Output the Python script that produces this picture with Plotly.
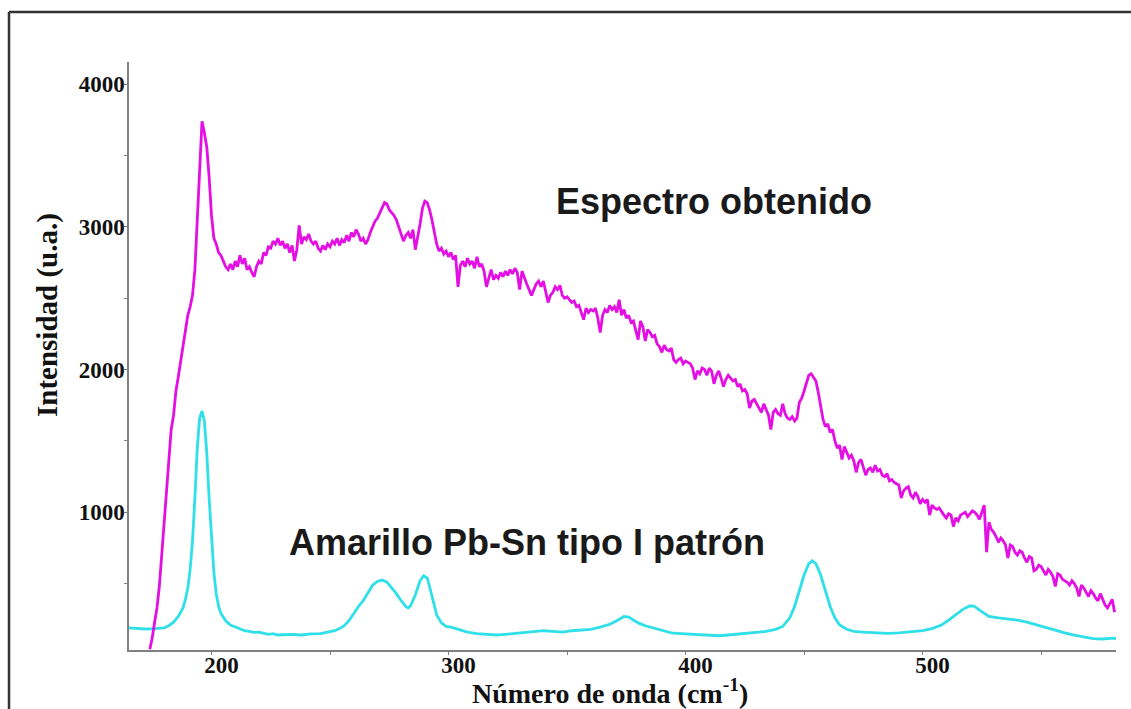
import plotly.graph_objects as go

# ---------------- data ----------------
# Measured spectrum (magenta), sampled every 1 cm-1 from 174 to 581
mag_x = list(range(174, 582))
mag_y = [
    40, 120, 230, 330, 480, 700, 950, 1150, 1350, 1580,
    1680, 1850, 1950, 2060, 2150, 2260, 2380, 2440, 2520, 2700,
    3050, 3420, 3740, 3660, 3560, 3350, 3080, 2920, 2880, 2820,
    2800, 2760, 2720, 2700, 2740, 2700, 2760, 2720, 2800, 2740,
    2780, 2700, 2720, 2680, 2650, 2720, 2760, 2740, 2820, 2800,
    2860, 2850, 2900, 2880, 2920, 2870, 2900, 2850, 2880, 2820,
    2870, 2760, 2840, 3010, 2880, 2930, 2910, 2950, 2900, 2880,
    2900, 2850, 2830, 2870, 2840, 2880, 2860, 2900, 2880, 2920,
    2870, 2910, 2890, 2940, 2900, 2960, 2930, 2980, 2950, 2900,
    2920, 2880, 2910, 2960, 3000, 3040, 3060, 3100, 3130, 3170,
    3160, 3120, 3100, 3080, 3050, 3000, 2950, 2900, 2940, 2960,
    2920, 2980, 2840, 2920, 3020, 3130, 3180, 3170, 3120, 3050,
    2960, 2880, 2830, 2850, 2810, 2830, 2790, 2820, 2770, 2800,
    2580, 2730, 2760, 2720, 2780, 2740, 2760, 2710, 2790, 2720,
    2740, 2690, 2580, 2650, 2700, 2630, 2660, 2640, 2680, 2650,
    2690, 2660, 2700, 2670, 2710, 2680, 2560, 2690, 2640, 2600,
    2560, 2520, 2560, 2600, 2620, 2580, 2620, 2540, 2470, 2520,
    2540, 2580, 2560, 2590, 2520, 2500, 2510, 2490, 2470, 2480,
    2440, 2450, 2400, 2350, 2430, 2400, 2420, 2410, 2430, 2360,
    2260, 2380, 2420, 2400, 2450, 2420, 2440, 2400, 2490, 2380,
    2420, 2360, 2380, 2330, 2340, 2280, 2210, 2340, 2300, 2200,
    2280, 2260, 2230, 2240, 2180, 2160, 2120, 2170, 2140, 2130,
    2150, 2070, 2050, 2070, 2080, 2040, 2060, 2050, 2040, 2010,
    1930, 1990, 1970, 2010, 2000, 1960, 2010, 1990, 1900, 1960,
    1990, 1940, 1880, 1930, 1960, 1940, 1920, 1930, 1880, 1900,
    1850, 1860, 1830, 1730, 1780, 1790, 1760, 1730, 1700, 1760,
    1720, 1680, 1580, 1700, 1720, 1690, 1680, 1760, 1690, 1660,
    1650, 1670, 1640, 1660, 1770, 1800, 1850, 1900, 1960, 1970,
    1940, 1920, 1840, 1750, 1650, 1600, 1620, 1560, 1580, 1500,
    1450, 1470, 1370, 1460, 1420, 1380, 1400, 1360, 1280, 1350,
    1370, 1320, 1260, 1300, 1310, 1280, 1330, 1290, 1300, 1260,
    1250, 1270, 1220, 1230, 1210, 1200, 1190, 1100, 1150, 1170,
    1180, 1120, 1100, 1140, 1110, 1060, 1090, 1070, 1090, 980,
    1050, 1030, 1020, 1030, 1000, 980, 960, 990, 980, 900,
    960, 940, 980, 990, 1000, 970, 990, 1010, 1000, 980,
    950, 1000, 1050, 720, 930, 880, 860, 830, 790, 820,
    800, 770, 680, 770, 760, 720, 700, 730, 720, 680,
    650, 690, 680, 590, 600, 630, 620, 590, 560, 600,
    580, 550, 480, 570, 560, 530, 520, 510, 490, 520,
    500, 470, 410, 490, 470, 440, 410, 450, 430, 400,
    380, 430, 390, 350, 330, 360, 390, 300,
]

# Reference pattern: Pb-Sn yellow type I (cyan)
ref_x = [164.8, 168, 172, 176, 180, 182, 184, 186, 188, 189, 190, 191, 192, 193, 194,
         195, 196, 197, 198, 199, 200, 201, 202, 203, 204, 206, 208, 210, 212, 214,
         216, 218, 220, 222, 224, 226, 228, 230, 234, 238, 242, 246, 250, 252, 254,
         256, 258, 260, 262, 264, 266, 268, 270, 272, 274, 276, 278, 280, 282, 283,
         284, 286, 288, 289.5, 291, 292, 293.5, 295, 297, 299, 301, 303, 305, 308, 312,
         316, 320, 324, 328, 332, 336, 340, 344, 348, 352, 356, 360, 364, 368, 371,
         374, 376, 378, 380, 383, 386, 390, 394, 398, 402, 406, 410, 414, 418, 422,
         426, 430, 434, 438, 441, 444, 446, 448, 450, 452, 453.5, 455, 457, 459, 461,
         463, 465, 468, 471, 475, 480, 485, 490, 495, 500, 504, 508, 511, 514, 517,
         520, 522, 524, 526, 528, 532, 536, 540, 544, 548, 552, 556, 560, 564, 568,
         572, 576, 580, 582]
ref_y = [190, 188, 182, 185, 190, 205, 230, 270, 330, 390, 470, 600, 800, 1100, 1450,
         1660, 1710, 1640, 1420, 1100, 800, 580, 430, 340, 290, 240, 210, 195, 180, 170,
         165, 158, 160, 150, 145, 150, 140, 142, 145, 140, 148, 150, 160, 170, 185,
         205, 240, 290, 340, 380, 440, 490, 515, 525, 510, 470, 430, 380, 340, 330,
         345, 420, 520, 555, 540, 480, 370, 280, 225, 200, 195, 185, 180, 160, 150,
         145, 140, 145, 150, 160, 165, 170, 165, 160, 170, 175, 180, 195, 215, 240,
         270, 265, 245, 225, 205, 190, 170, 155, 150, 145, 140, 138, 135, 140, 145,
         150, 158, 165, 180, 200, 260, 340, 450, 560, 640, 660, 640, 560, 450, 340,
         260, 210, 180, 165, 160, 155, 152, 155, 160, 170, 185, 210, 245, 285, 320,
         345, 340, 315, 290, 270, 260, 255, 245, 230, 210, 195, 175, 155, 140, 125,
         115, 112, 118, 115]

x_range = [165.2, 581.6]
y_range = [35, 4155]
y_ticks = [1000, 2000, 3000, 4000]
x_ticks = [200, 300, 400, 500]

label_spectrum = "Espectro obtenido"
label_reference = "Amarillo Pb-Sn tipo I patrón"
x_title = "Número de onda (cm<sup>-1</sup>)"
y_title = "Intensidad (u.a.)"

# ---------------- figure ----------------
W, H = 1131, 709
L, R, T, B = 129, 15, 62, 59
pw, ph = W - L - R, H - T - B

def px_to_paper(px, py):
    return (px - L) / pw, (H - B - py) / ph

fig = go.Figure()
fig.add_trace(go.Scatter(x=ref_x, y=ref_y, mode="lines",
                         line=dict(color="#2fe0e8", width=2.8), showlegend=False))
fig.add_trace(go.Scatter(x=mag_x, y=mag_y, mode="lines",
                         line=dict(color="#e30fe3", width=2.8), showlegend=False))

serif_bold = dict(family="Liberation Serif", size=23, color="#111111", weight="bold")
axis_common = dict(showline=True, linecolor="#808080", linewidth=1.5,
                   showgrid=False, zeroline=False, ticks="outside", ticklen=3,
                   tickcolor="#808080", tickfont=serif_bold)

fig.update_xaxes(range=x_range, tickvals=x_ticks, ticklabelshift=10,
                 ticklabelstandoff=-9,
                 minor=dict(ticks="outside", ticklen=3, tickcolor="#808080",
                            tickvals=[250, 350, 450, 550]),
                 **axis_common)
fig.update_yaxes(range=y_range, tickvals=y_ticks, ticklabelstandoff=-5,
                 minor=dict(ticks="outside", ticklen=3, tickcolor="#808080",
                            tickvals=[500, 1500, 2500, 3500]),
                 **axis_common)

sans_bold = dict(family="Liberation Sans", size=36, color="#1a1a1a", weight="bold")
fig.add_annotation(x=412, y=3181, xref="x", yref="y", text=label_spectrum,
                   showarrow=False, font=sans_bold, xanchor="center", yanchor="middle")
fig.add_annotation(x=333, y=785, xref="x", yref="y", text=label_reference,
                   showarrow=False, font=sans_bold, xanchor="center", yanchor="middle")

title_font = dict(family="Liberation Serif", size=28, color="#111111", weight="bold")
xt = px_to_paper(610, 691)
fig.add_annotation(x=xt[0], y=xt[1], xref="paper", yref="paper", text=x_title,
                   showarrow=False, font=title_font, xanchor="center", yanchor="middle")
yt = px_to_paper(47, 315)
fig.add_annotation(x=yt[0], y=yt[1], xref="paper", yref="paper", text=y_title,
                   showarrow=False, font=dict(title_font, size=29), textangle=-90,
                   xanchor="center", yanchor="middle")

# outer frame (top and left edges visible)
fx0, fy0 = px_to_paper(9, 12)
fx1, fy1 = px_to_paper(W + 5, H + 5)
fig.add_shape(type="line", xref="paper", yref="paper", x0=fx0, y0=fy0, x1=fx1, y1=fy0,
              line=dict(color="#333333", width=2.5))
fig.add_shape(type="line", xref="paper", yref="paper", x0=fx0, y0=fy0, x1=fx0, y1=fy1,
              line=dict(color="#333333", width=2.5))

fig.update_layout(width=W, height=H, margin=dict(l=L, r=R, t=T, b=B, autoexpand=False),
                  paper_bgcolor="white", plot_bgcolor="white", showlegend=False)

fig.write_html("out.html")
